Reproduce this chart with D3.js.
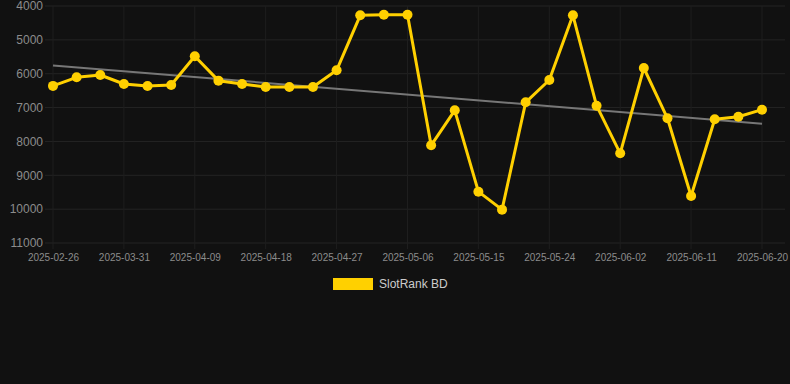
<!DOCTYPE html>
<html>
<head>
<meta charset="utf-8">
<script src="https://cdn.jsdelivr.net/npm/d3@7"></script>
<style>
  body { margin: 0; background: #111111; }
  svg { display: block; font-family: "Liberation Sans", Arial, sans-serif; }
</style>
</head>
<body>
<div id="chart"></div>
<script>
// Data
const dates = [
  '2025-02-26', '2025-03-25', '2025-03-28', '2025-03-31', '2025-04-03', '2025-04-06',
  '2025-04-09', '2025-04-12', '2025-04-15', '2025-04-18', '2025-04-21', '2025-04-24',
  '2025-04-27', '2025-04-30', '2025-05-03', '2025-05-06', '2025-05-09', '2025-05-12',
  '2025-05-15', '2025-05-18', '2025-05-21', '2025-05-24', '2025-05-27', '2025-05-30',
  '2025-06-02', '2025-06-05', '2025-06-08', '2025-06-11', '2025-06-14', '2025-06-17',
  '2025-06-20'
]
const ranks = [
  6360, 6106, 6038, 6304, 6363, 6333,
  5486, 6205, 6304, 6392, 6392, 6392,
  5900, 4275, 4256, 4256, 8115, 7081,
  9484, 10015, 6845, 6185, 4275, 6944,
  8351, 5831, 7317, 9611, 7346, 7270,
  7062
]
const yTicks = [4000, 5000, 6000, 7000, 8000, 9000, 10000, 11000]
const seriesName = 'SlotRank BD'

const width = 790, height = 384
const margin = {top: 6, right: 28, bottom: 141, left: 53}

const svg = d3.select('#chart').append('svg')
  .attr('width', width)
  .attr('height', height)

svg.append('rect').attr('width', width).attr('height', height).attr('fill', '#111111')

// Scales
const x = d3.scalePoint().domain(dates).range([margin.left, width - margin.right])
const y = d3.scaleLinear().domain([4000, 11000]).range([margin.top, height - margin.bottom])

const labelDates = dates.filter((d, i) => i % 3 === 0)

// Grid
const grid = svg.append('g')
grid.selectAll('line.h')
  .data(yTicks)
  .enter()
  .append('line')
  .attr('x1', margin.left - 8)
  .attr('x2', width - 5)
  .attr('y1', d => y(d))
  .attr('y2', d => y(d))
  .attr('stroke', '#242424')
  .attr('stroke-width', 1)
grid.selectAll('line.v')
  .data(labelDates)
  .enter()
  .append('line')
  .attr('x1', d => x(d))
  .attr('x2', d => x(d))
  .attr('y1', margin.top)
  .attr('y2', height - margin.bottom + 6)
  .attr('stroke', '#1e1e1e')
  .attr('stroke-width', 1)

// Axes
const yAxis = d3.axisLeft(y).tickValues(yTicks).tickFormat(d3.format('d')).tickSize(0).tickPadding(10)
const yAxisGroup = svg.append('g')
  .attr('transform', `translate(${margin.left}, 0)`)
  .call(yAxis)
yAxisGroup.select('.domain').remove()
yAxisGroup.selectAll('text').attr('fill', '#8c8c8c').attr('font-size', '12px')

const xAxis = d3.axisBottom(x).tickValues(labelDates).tickSize(0).tickPadding(11)
const xAxisGroup = svg.append('g')
  .attr('transform', `translate(0, ${height - margin.bottom})`)
  .call(xAxis)
xAxisGroup.select('.domain').remove()
xAxisGroup.selectAll('text').attr('fill', '#8c8c8c').attr('font-size', '10px')

// Trend line (least squares fit on the series)
const n = ranks.length
const xs = d3.range(n)
const mx = d3.mean(xs), my = d3.mean(ranks)
const slope = d3.sum(xs, i => (i - mx) * (ranks[i] - my)) / d3.sum(xs, i => (i - mx) * (i - mx))
const intercept = my - slope * mx
svg.append('line')
  .attr('x1', x(dates[0]))
  .attr('y1', y(intercept))
  .attr('x2', x(dates[n - 1]))
  .attr('y2', y(intercept + slope * (n - 1)))
  .attr('stroke', '#777777')
  .attr('stroke-width', 2)

// Series line
const line = d3.line()
  .x((d, i) => x(dates[i]))
  .y(d => y(d))
svg.append('path')
  .datum(ranks)
  .attr('d', line)
  .attr('fill', 'none')
  .attr('stroke', '#FFD000')
  .attr('stroke-width', 3)
  .attr('stroke-linejoin', 'round')

svg.selectAll('circle')
  .data(ranks)
  .enter()
  .append('circle')
  .attr('cx', (d, i) => x(dates[i]))
  .attr('cy', d => y(d))
  .attr('r', 5)
  .attr('fill', '#FFD000')

// Legend
const legend = svg.append('g').attr('transform', 'translate(333, 278)')
legend.append('rect')
  .attr('width', 40)
  .attr('height', 12)
  .attr('fill', '#FFD000')
legend.append('text')
  .attr('x', 46)
  .attr('y', 6)
  .attr('dy', '0.35em')
  .attr('fill', '#cccccc')
  .attr('font-size', '12px')
  .text(seriesName)
</script>
</body>
</html>
